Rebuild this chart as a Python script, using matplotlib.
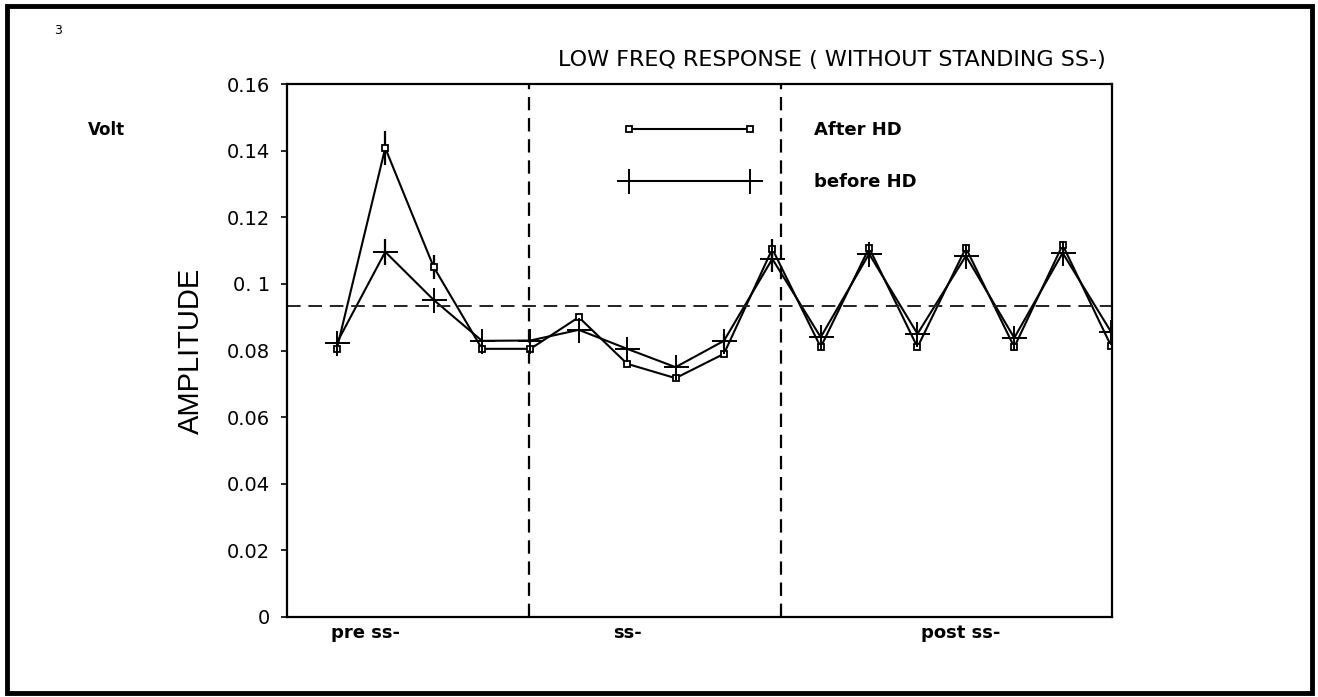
import matplotlib
matplotlib.use("Agg")
import matplotlib.pyplot as plt
from matplotlib.patches import Rectangle

# readings, one per stimulus step
steps = list(range(17))
after_hd = [0.0805, 0.1408, 0.1051, 0.0805, 0.0805, 0.0900, 0.0760, 0.0717, 0.0790,
            0.1105, 0.0810, 0.1108, 0.0810, 0.1108, 0.0810, 0.1117, 0.0814]
before_hd = [0.0823, 0.1096, 0.0952, 0.0829, 0.0830, 0.0862, 0.0805, 0.0750, 0.0829,
             0.1075, 0.0840, 0.1090, 0.0850, 0.1084, 0.0838, 0.1093, 0.0856]
after_err = [0, 0.005, 0.0035, 0, 0, 0, 0, 0, 0, 0.003, 0, 0, 0, 0, 0, 0, 0]
before_err = [0, 0.004, 0, 0, 0, 0, 0, 0, 0.002, 0.004, 0, 0, 0, 0, 0, 0, 0]

phase_labels = ["pre ss-", "ss-", "post ss-"]
phase_label_pos = [0.6, 6.0, 12.9]
phase_bounds = [3.97, 9.18]
mean_level = 0.0935
yticks = [0, 0.02, 0.04, 0.06, 0.08, 0.1, 0.12, 0.14, 0.16]
ytick_labels = ["0", "0.02", "0.04", "0.06", "0.08", "0. 1", "0.12", "0.14", "0.16"]

fig = plt.figure(figsize=(13.18, 6.97), dpi=100)
ax = fig.add_axes([287 / 1318, 1 - 617 / 697, (1112 - 287) / 1318, (617 - 84) / 697])

ax.errorbar(steps, after_hd, yerr=after_err, fmt="none", ecolor="black", elinewidth=1.6, capsize=0)
ax.errorbar(steps, before_hd, yerr=before_err, fmt="none", ecolor="black", elinewidth=1.6, capsize=0)
ax.plot(steps, after_hd, color="black", lw=1.5, marker="s", markersize=4.5,
        markerfacecolor="white", markeredgecolor="black", markeredgewidth=1.3, label="After HD")
ax.plot(steps, before_hd, color="black", lw=1.5, marker="+", markersize=18,
        markeredgewidth=1.4, label="before HD")

for b in phase_bounds:
    ax.axvline(b, color="black", lw=1.6, ls=(0, (6, 3.5)))
ax.axhline(mean_level, color="#222222", lw=1.4, ls=(0, (7, 4)))

ax.set_xlim(-1.03, 16.02)
ax.set_ylim(0, 0.16)
ax.set_yticks(yticks)
ax.set_yticklabels(ytick_labels, fontsize=14)
ax.set_xticks(phase_label_pos)
ax.set_xticklabels(phase_labels, fontsize=13, fontweight="bold")
ax.tick_params(axis="x", length=0, pad=5)
ax.tick_params(axis="y", length=4, width=1.2, direction="out", pad=8)
for s in ax.spines.values():
    s.set_linewidth(1.6)

ax.set_ylabel("AMPLITUDE", fontsize=21, family="Liberation Sans", labelpad=16)

ax.legend(loc="upper left", bbox_to_anchor=(624 / 1318, 1 - 121 / 697),
          bbox_transform=fig.transFigure, frameon=False, numpoints=2,
          handlelength=7.3, handletextpad=3.2, labelspacing=1.9,
          borderpad=0, borderaxespad=0, prop={"size": 13, "weight": "bold"})

fig.text(832 / 1318, 1 - 60 / 697, "LOW FREQ RESPONSE ( WITHOUT STANDING SS-)",
         ha="center", va="center", fontsize=16)
fig.text(88 / 1318, 1 - 130 / 697, "Volt", ha="left", va="center", fontsize=12, fontweight="bold")
fig.text(58 / 1318, 1 - 30 / 697, "3", ha="center", va="center", fontsize=9)

fig.patches.append(Rectangle((7 / 1318, 4 / 697), 1305 / 1318, 687 / 697, transform=fig.transFigure,
                             fill=False, edgecolor="black", lw=3.5))

fig.savefig("out.png", dpi=100)
